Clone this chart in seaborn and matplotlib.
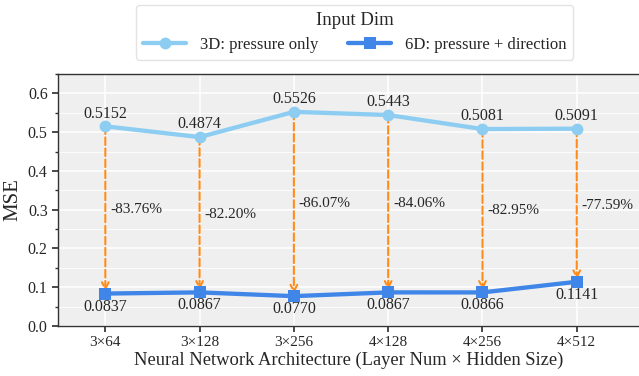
import numpy as np
import matplotlib
matplotlib.use("Agg")
import matplotlib.pyplot as plt
from matplotlib.ticker import MultipleLocator
import seaborn as sns
import pandas as pd

archs = ["3×64", "3×128", "3×256", "4×128", "4×256", "4×512"]
mse_3d = [0.5152, 0.4874, 0.5526, 0.5443, 0.5081, 0.5091]
mse_6d = [0.0837, 0.0867, 0.0770, 0.0867, 0.0866, 0.1141]
change_pct = [-83.76, -82.20, -86.07, -84.06, -82.95, -77.59]
label_3d = "3D: pressure only"
label_6d = "6D: pressure + direction"

sns.set_theme(style="darkgrid")
plt.rcParams['font.family'] = ['Liberation Serif', 'DejaVu Serif']
plt.rcParams['axes.facecolor'] = '#efefef'

df = pd.DataFrame({
    "arch": archs * 2,
    "mse": mse_3d + mse_6d,
    "dim": [label_3d] * len(archs) + [label_6d] * len(archs),
})
df["x"] = df["arch"].map({a: i for i, a in enumerate(archs)})

fig, ax = plt.subplots(figsize=(6.39, 3.76), dpi=100)
sns.lineplot(data=df, x="x", y="mse", hue="dim", style="dim",
             palette={label_3d: "#8ecdf2", label_6d: "#3f86e8"},
             markers={label_3d: "o", label_6d: "s"}, dashes=False,
             linewidth=3.1, markersize=8.5, markeredgewidth=0, ax=ax)

# dashed arrows from 3D to 6D with relative change
for i in range(len(archs)):
    top, bot = mse_3d[i], mse_6d[i]
    ax.annotate("", xy=(i, bot + 0.006), xytext=(i, top),
                arrowprops=dict(arrowstyle="->", color="#ff8c1a", lw=1.5,
                                linestyle="--", shrinkA=0, shrinkB=0), zorder=1)
    ax.text(i + 0.05, (top + bot) / 2, f"{change_pct[i]:.2f}%", fontsize=11,
            ha="left", va="center")
    ax.text(i, top + 0.012, f"{top:.4f}", fontsize=11.5, ha="center", va="bottom")
    ax.text(i, bot - 0.013, f"{bot:.4f}", fontsize=11.5, ha="center", va="top")

ax.set_xticks(range(len(archs)))
ax.set_xticklabels(archs, fontsize=11)
ax.set_xlim(-0.5, 5.66)
ax.set_ylim(0, 0.65)
ax.yaxis.set_major_locator(MultipleLocator(0.1))
ax.yaxis.set_minor_locator(MultipleLocator(0.05))
ax.tick_params(axis="y", labelsize=11.5, which="major", left=True, length=4, color="#333333")
ax.tick_params(axis="y", which="minor", left=True, length=2, color="#333333")
ax.tick_params(axis="x", bottom=True, length=4, color="#333333")
ax.grid(which="major", color="white", linewidth=1.1)
ax.grid(which="minor", axis="y", color="white", linewidth=0.6)
ax.set_xlabel("Neural Network Architecture (Layer Num × Hidden Size)", fontsize=13.3, labelpad=2)
ax.set_ylabel("MSE", fontsize=15)
for s in ["left", "bottom", "top"]:
    ax.spines[s].set_visible(True)
    ax.spines[s].set_color("#333333")
    ax.spines[s].set_linewidth(1.0)
ax.spines["right"].set_visible(False)

ax.legend(title="Input Dim", loc="upper center", bbox_to_anchor=(0.555, 1.0),
          bbox_transform=fig.transFigure, borderaxespad=0.3,
          ncol=2, fontsize=12, title_fontsize=13.5, frameon=True,
          facecolor="white", edgecolor="#dddddd", handlelength=2.6,
          columnspacing=1.8)

fig.subplots_adjust(left=0.091, right=1.0, top=0.803, bottom=0.133)
fig.savefig("out.png", dpi=100)
